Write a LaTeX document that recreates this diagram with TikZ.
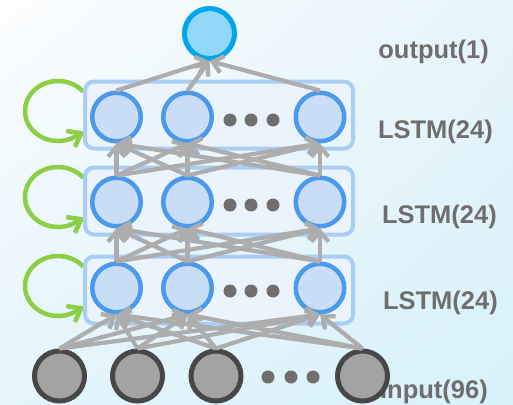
\documentclass[tikz,border=0pt]{standalone}
\usepackage{fontspec}
\setmainfont{Liberation Sans}
\usetikzlibrary{arrows.meta,calc,shadings}
\definecolor{bgA}{HTML}{FCFDFE}
\definecolor{bgB}{HTML}{E6F5FB}
\definecolor{bgC}{HTML}{E4F5FC}
\definecolor{bgD}{HTML}{D8F1FA}
\definecolor{boxfill}{HTML}{EBF3FC}
\definecolor{boxdraw}{HTML}{A9CDF5}
\definecolor{hidfill}{HTML}{C9DDF6}
\definecolor{hiddraw}{HTML}{4B99EA}
\definecolor{outfill}{HTML}{92D9F9}
\definecolor{outdraw}{HTML}{00A6EC}
\definecolor{infill}{HTML}{A3A3A3}
\definecolor{indraw}{HTML}{474747}
\definecolor{dotcol}{HTML}{6F6F6F}
\definecolor{txtcol}{HTML}{6E6E6E}
\definecolor{arrcol}{HTML}{ADADAD}
\definecolor{loopcol}{HTML}{8CCF45}
\tikzset{
  layerbox/.style={draw=boxdraw, fill=boxfill, line width=4pt, rounded corners=9pt,
    minimum width=268pt, minimum height=67pt, inner sep=0pt},
  hid/.style={circle, draw=hiddraw, fill=hidfill, line width=4.5pt, minimum size=48.5pt, inner sep=0pt},
  outn/.style={circle, draw=outdraw, fill=outfill, line width=5pt, minimum size=50pt, inner sep=0pt},
  inn/.style={circle, draw=indraw, fill=infill, line width=5pt, minimum size=50pt, inner sep=0pt},
  dotn/.style={circle, fill=dotcol, minimum size=13pt, inner sep=0pt},
  conn/.style={draw=arrcol, line width=4.2pt, -{Straight Barb[length=10pt,width=17pt]}},
  gloop/.style={draw=loopcol, line width=4.5pt, -{Straight Barb[length=12pt,width=18pt]}},
  lbl/.style={text=txtcol, font=\bfseries\fontsize{25.5}{30}\selectfont, inner sep=0pt, anchor=base east},
}
\begin{document}
\begin{tikzpicture}[x=1pt,y=-1pt]
\useasboundingbox (0,0) rectangle (513,404);
\shade[upper left=bgA, upper right=bgB, lower left=bgC, lower right=bgD] (0,0) rectangle (513,404);

% labels (behind nodes)
\node[lbl] (lo) at (489,59) {output(1)};
\node[lbl] (l1) at (493,138) {LSTM(24)};
\node[lbl] (l2) at (497,223) {LSTM(24)};
\node[lbl] (l3) at (498,309) {LSTM(24)};
\node[lbl] (li) at (488,398) {Input(96)};

% recurrent loops
\foreach \c in {111,197,286}{
  \draw[gloop] plot[domain=40:305, samples=60, smooth] ({58+33*cos(\x)}, {\c-30*sin(\x)}) -- (84.5,\c+20.5);
}

% layer boxes
\node[layerbox] (b1) at (219,115) {};
\node[layerbox] (b2) at (219,201) {};
\node[layerbox] (b3) at (219,290) {};

% output
\node[outn] (o) at (209.5,33.5) {};

% hidden layers
\node[hid] (h1a) at (116.5,117) {};
\node[hid] (h1b) at (187.5,117) {};
\node[hid] (h1c) at (320,117) {};
\node[hid] (h2a) at (116.5,202) {};
\node[hid] (h2b) at (187.5,202) {};
\node[hid] (h2c) at (320,202) {};
\node[hid] (h3a) at (116.5,288) {};
\node[hid] (h3b) at (187.5,288) {};
\node[hid] (h3c) at (320,288) {};

% inputs
\node[inn] (i1) at (59.5,376) {};
\node[inn] (i2) at (137.5,376) {};
\node[inn] (i3) at (216,376) {};
\node[inn] (i4) at (362.5,376) {};

% dots
\foreach \y/\n in {120/1,205/2,291/3}{
  \node[dotn] (d\n a) at (230,\y) {};
  \node[dotn] (d\n b) at (251,\y) {};
  \node[dotn] (d\n c) at (273,\y) {};
}
\node[dotn] (dia) at (268,377) {};
\node[dotn] (dib) at (291,377) {};
\node[dotn] (dic) at (313,377) {};

% connections
\foreach \s in {i1,i2,i3,i4}{
  \foreach \t in {h3a,h3b,h3c}{
    \draw[conn] (\s.north) -- (\t.south);
  }
}
\foreach \s in {h3a,h3b,h3c}{
  \foreach \t in {h2a,h2b,h2c}{
    \draw[conn] (\s.north) -- (\t.south);
  }
}
\foreach \s in {h2a,h2b,h2c}{
  \foreach \t in {h1a,h1b,h1c}{
    \draw[conn] (\s.north) -- (\t.south);
  }
}
\foreach \s in {h1a,h1b,h1c}{
  \draw[conn] (\s.north) -- (o.south);
}
\end{tikzpicture}
\end{document}
